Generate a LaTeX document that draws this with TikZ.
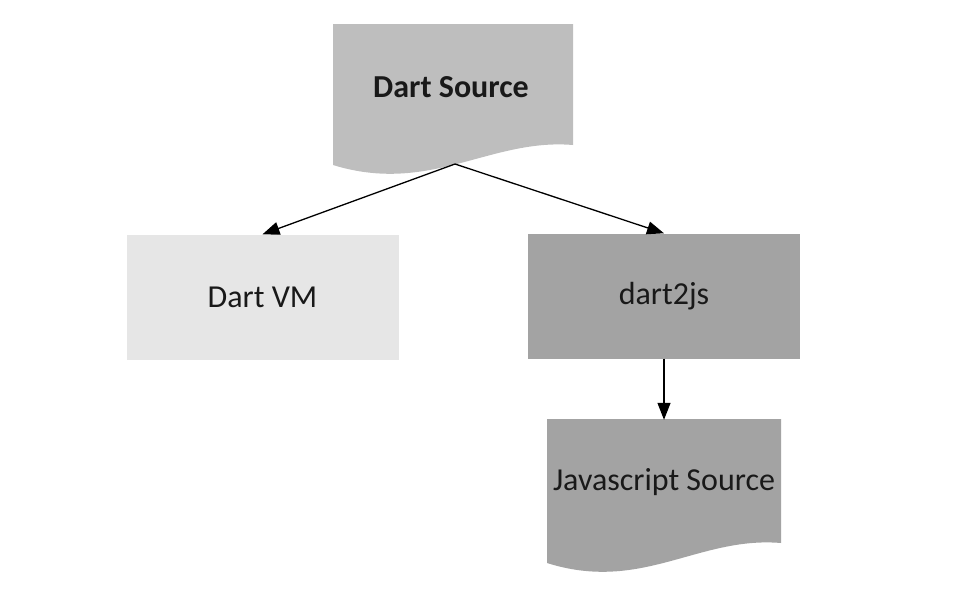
\documentclass[tikz,border=0pt]{standalone}
\usepackage{fontspec}
\setmainfont{Carlito}
\usetikzlibrary{arrows.meta}
\definecolor{srcgray}{HTML}{BEBEBE}
\definecolor{vmgray}{HTML}{E6E6E6}
\definecolor{jsgray}{HTML}{A3A3A3}
\tikzset{
  box/.style={minimum width=272pt, minimum height=125pt, inner sep=0pt, text=black!90, font=\fontsize{32}{38}\selectfont},
  doc/.style={minimum height=124pt, inner sep=0pt, text=black!90, font=\fontsize{32}{38}\selectfont},
  arr/.style={-{Triangle[length=17pt,width=13pt]}, line width=1.3pt}
}
\begin{document}
\begin{tikzpicture}[x=1pt,y=-1pt]
\useasboundingbox (0,0) rectangle (957,598);
% Dart Source
\fill[srcgray] (333,24) -- (573,24) -- (573,145) .. controls (490,138) and (430,195) .. (333,165) -- cycle;
\node[doc, minimum width=240pt, font=\fontsize{32}{38}\selectfont\bfseries] (dsrc) at (451,87) {Dart Source};
\coordinate (dtip) at (455,164);
% targets
\node[box, fill=vmgray] (vm) at (262.5,297) {Dart VM};
\node[box, fill=jsgray] (d2js) at (664,296) {dart2js};
% Javascript Source
\fill[jsgray] (547,419) -- (781,419) -- (781,543) .. controls (698,536) and (642,593) .. (547,563) -- cycle;
\node[doc, minimum width=234pt] (jssrc) at (664,482) {Javascript Source};
\draw[arr] (dtip) -- (vm.north);
\draw[arr] (dtip) -- (d2js.north);
\draw[arr] (d2js.south) -- (jssrc.north);
\end{tikzpicture}
\end{document}
